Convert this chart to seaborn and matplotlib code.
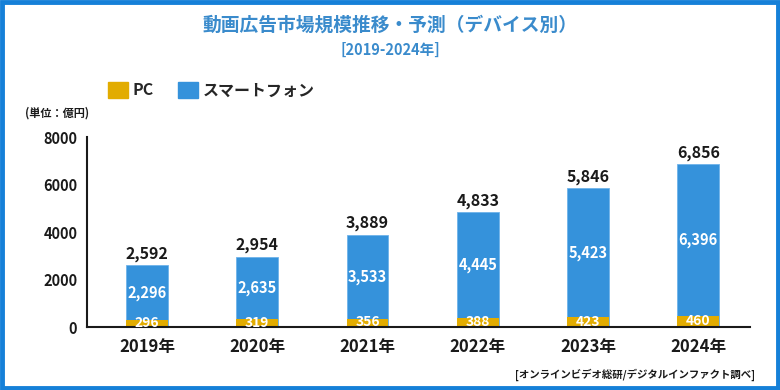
import pandas as pd
import matplotlib.pyplot as plt
import matplotlib.patches as mpatches
import seaborn as sns

# values (億円)
years = ["2019年", "2020年", "2021年", "2022年", "2023年", "2024年"]
pc = [296, 319, 356, 388, 423, 460]
smartphone = [2296, 2635, 3533, 4445, 5423, 6396]
totals = [2592, 2954, 3889, 4833, 5846, 6856]
y_ticks = [0, 2000, 4000, 6000, 8000]

BLUE = "#3592db"
GOLD = "#e2ac00"
TITLE_BLUE = "#3a8bcc"
DARK = "#1a1a1a"

sns.set_style("white")
plt.rcParams["font.family"] = ["Noto Sans CJK JP", "DejaVu Sans"]
plt.rcParams["font.weight"] = "bold"

df = pd.DataFrame({"year": years, "pc": pc, "smartphone": smartphone, "total": totals})

fig = plt.figure(figsize=(7.8, 3.9), dpi=100)
ax = fig.add_axes([87 / 780, 1 - 327 / 390, (750 - 87) / 780, (327 - 137) / 390])

# stacked bars: full total in blue, PC drawn over the bottom in gold
sns.barplot(data=df, x="year", y="total", color=BLUE, width=0.38, saturation=1,
            edgecolor="#6fb3ea", linewidth=0.6, ax=ax)
sns.barplot(data=df, x="year", y="pc", color=GOLD, width=0.38, saturation=1,
            linewidth=0, ax=ax)

for i, row in df.iterrows():
    ax.annotate(f"{row.total:,}", (i, row.total), xytext=(0, 2.5), textcoords="offset points",
                ha="center", va="bottom", fontsize=11.5, fontweight="bold", color=DARK)
    ax.text(i, row.pc + row.smartphone / 2, f"{row.smartphone:,}", ha="center", va="center",
            fontsize=10.5, fontweight="bold", color="white")
    ax.text(i, row.pc / 2 + 20, f"{row.pc:,}", ha="center", va="center",
            fontsize=10, fontweight="bold", color="white")

ax.set_xlim(-0.545, 5.47)
ax.set_ylim(0, 8000)
ax.set_yticks(y_ticks)
ax.set_yticklabels([str(v) for v in y_ticks])
ax.set_xlabel("")
ax.set_ylabel("")
ax.set_xticks(range(len(years)))
ax.set_xticks([0.5, 1.5, 2.5, 3.5, 4.5, 5.47], minor=True)
ax.tick_params(axis="x", which="major", length=0, pad=8, labelsize=12, colors=DARK)
ax.tick_params(axis="x", which="minor", length=5, width=1.2, direction="out", color=DARK)
ax.tick_params(axis="y", length=4, width=1.2, direction="out", pad=3, labelsize=10.5,
               colors=DARK)
for lab in ax.get_xticklabels() + ax.get_yticklabels():
    lab.set_fontweight("bold")
for side in ["top", "right"]:
    ax.spines[side].set_visible(False)
for side in ["left", "bottom"]:
    ax.spines[side].set_color(DARK)
    ax.spines[side].set_linewidth(1.5)

# titles
fig.text(0.5, 1 - 25 / 390, "動画広告市場規模推移・予測（デバイス別）", ha="center", va="center",
         fontsize=13.5, fontweight="bold", color=TITLE_BLUE)
fig.text(0.5, 1 - 50 / 390, "[2019-2024年]", ha="center", va="center",
         fontsize=10.5, fontweight="bold", color=TITLE_BLUE)
fig.text(25 / 780, 1 - 113 / 390, "(単位：億円)", ha="left", va="center",
         fontsize=8, fontweight="bold", color=DARK)
fig.text(755 / 780, 1 - 375 / 390, "[オンラインビデオ総研/デジタルインファクト調べ]", ha="right",
         va="center", fontsize=7.5, fontweight="bold", color=DARK)

# legend
handles = [mpatches.Patch(color=GOLD, label="PC"), mpatches.Patch(color=BLUE, label="スマートフォン")]
fig.legend(handles=handles, loc="center left", bbox_to_anchor=(108 / 780, 1 - 90 / 390),
           ncol=2, frameon=False, borderpad=0, borderaxespad=0,
           handlelength=1.25, handleheight=1.25, handletextpad=0.3,
           columnspacing=1.5, prop={"size": 11.5, "weight": "bold"})

# blue frame around the whole picture
fig.patches.append(mpatches.Rectangle((0.002, 0.004), 0.996, 0.992, transform=fig.transFigure,
                                      fill=False, edgecolor="#1580d8", linewidth=3.5))

fig.savefig("out.png", dpi=100)
